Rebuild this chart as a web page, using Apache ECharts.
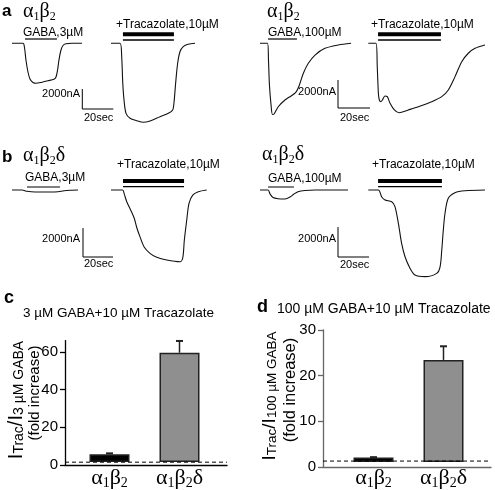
<!DOCTYPE html>
<html><head><meta charset="utf-8">
<script src="https://cdn.jsdelivr.net/npm/echarts/dist/echarts.min.js"></script>
<style>html,body{margin:0;padding:0;background:#fff}#main{width:495px;height:490px}</style>
</head><body><div id="main"></div>
<script>
// ================= DATA =================
const categories = ['α1β2', 'α1β2δ'];
// panel c: 3 µM GABA + 10 µM Tracazolate (fold increase)
const cMeans = [4.2, 59.4];
const cErrors = [0.5, 6.4];
const cRefLine = 1.5;
const cTicks = [0, 20, 40, 60];
const cAxisMax = 66;
// panel d: 100 µM GABA + 10 µM Tracazolate (fold increase)
const dMeans = [1.0, 23.2];
const dErrors = [0.1, 3.1];
const dRefLine = 1.3;
const dTicks = [0, 10, 20, 30];
const dAxisMax = 30;
// scale bars
const scaleBarSec = 20;
const scaleBarNA = 2000;
// current traces: [time (s), current (nA)]
const traceA1 = [[0,0],[7.1,0],[8.1,-470],[9.0,-1670],[10.3,-2870],[11.6,-3570],[13.5,-3920],[15.5,-4000],[19.4,-3890],[23.2,-3750],[27.1,-3590],[28.4,-3370],[29.4,-2670],[30.3,-1670],[31.6,-670],[32.9,-220],[34.8,-50],[38.7,0],[45.2,0]];
const traceA2 = [[0,0],[5.8,0],[6.9,-1340],[7.6,-4000],[8.4,-5670],[9.7,-7000],[12.3,-7500],[16.6,-7740],[20.8,-7900],[25.2,-7770],[31.6,-7340],[37.0,-7000],[39.8,-6670],[40.6,-6000],[41.7,-4000],[43.0,-2000],[44.5,-840],[46.6,-340],[49.7,-100],[54.2,0]];
const traceA3 = [[0,0],[4.7,0],[5.3,-1190],[5.9,-2980],[6.9,-4400],[7.8,-5080],[8.8,-5050],[11.4,-4530],[15.6,-4050],[19.4,-3760],[22.5,-3480],[24.4,-3050],[27.1,-2140],[30.2,-1430],[34.4,-840],[40.6,-360],[48.9,-120],[56.9,0]];
const traceA4 = [[0,0],[4.8,0],[5.6,-1670],[6.3,-3570],[6.9,-4050],[7.8,-4170],[8.8,-4050],[10.4,-3760],[11.9,-3810],[13.6,-4280],[16.3,-4760],[19.2,-4960],[25.0,-4760],[31.3,-4530],[39.6,-4170],[45.9,-3810],[50.0,-3330],[54.2,-2380],[58.4,-1310],[62.5,-710],[66.7,-360],[72.9,-120]];
const traceB1 = [[0,0],[6.7,0],[10,-90],[15.3,-140],[25.3,-140],[30.7,-120],[34.7,-50],[40,-15],[44,0]];
const traceB2 = [[0,0],[7.8,0],[8.7,-230],[10.5,-810],[13.1,-1380],[15.5,-1950],[17.1,-2570],[19.3,-3220],[22,-3910],[26,-4370],[30.5,-4640],[37.1,-4830],[46,-4950],[47.8,-4710],[48.9,-3450],[50.5,-2070],[52,-920],[54.5,-350],[58.2,-120],[63.8,0]];
const traceB3 = [[0,0],[5.2,0],[6.5,-270],[8.4,-500],[11.6,-580],[16.1,-600],[19.4,-470],[21.9,-270],[24.5,-110],[29,-30],[35.5,0],[56.8,0]];
const traceB4 = [[0,0],[6.5,0],[8.6,-450],[10.8,-670],[15.1,-780],[17.2,-1110],[19.4,-2220],[21.5,-3560],[23.7,-4450],[26.9,-5220],[30.1,-5670],[36.6,-5780],[44.1,-5560],[46.3,-5120],[47.4,-4000],[48.4,-2670],[49.5,-1550],[51.6,-550],[55.9,-180],[62.4,-50],[75.3,0]];
// drug application periods [start s, end s]
const gabaA1 = [8.4, 29.0];
const tracA2 = [7.7, 40.6];
const gabaA3 = [5.0, 23.1];
const tracA4 = [6.1, 45.4];
const gabaB1 = [10, 32];
const tracB2 = [8, 48.7];
const gabaB3 = [5.2, 21.9];
const tracB4 = [6.3, 47.5];

// ================= LAYOUT / STYLE =================
const SANS = 'Liberation Sans, Arial, sans-serif';
const SERIF = 'Liberation Serif, Times New Roman, serif';
const panels = {
  aL: {pxPerSec: 1.55, nAPerPx: 100, sx: 82.3, sy: 109},
  aR: {pxPerSec: 1.6, nAPerPx: 71.4, sx: 338, sy: 108},
  bL: {pxPerSec: 1.5, nAPerPx: 69, sx: 83, sy: 257},
  bR: {pxPerSec: 1.55, nAPerPx: 66.7, sx: 338, sy: 257}
};

const grids = [], xAxes = [], yAxes = [], series = [];
function addGrid(g, x, y) {
  grids.push(Object.assign({containLabel: false}, g));
  const i = grids.length - 1;
  xAxes.push(Object.assign({gridIndex: i}, x));
  yAxes.push(Object.assign({gridIndex: i}, y));
  return i;
}
function addTrace(data, x0, yBase, pan, apps) {
  const tEnd = data[data.length - 1][0];
  const minI = Math.min.apply(null, data.map(d => d[1]));
  const upPx = 12, depthPx = -minI / pan.nAPerPx + 4;
  const gi = addGrid({left: x0, top: yBase - upPx, width: tEnd * pan.pxPerSec, height: upPx + depthPx},
    {type: 'value', min: 0, max: tEnd, show: false},
    {type: 'value', min: -depthPx * pan.nAPerPx, max: upPx * pan.nAPerPx, show: false});
  series.push({type: 'line', xAxisIndex: gi, yAxisIndex: gi, data: data, showSymbol: false, smooth: 0.3,
    clip: false, silent: true, lineStyle: {color: '#111', width: 1.1}});
  apps.forEach(a => {
    const lvl = a.px * pan.nAPerPx;
    series.push({type: 'line', xAxisIndex: gi, yAxisIndex: gi, data: [[a.t[0], lvl], [a.t[1], lvl]],
      showSymbol: false, clip: false, silent: true, lineStyle: {color: '#000', width: a.w, cap: 'butt'}});
  });
}
function addScale(pan) {
  const w = scaleBarSec * pan.pxPerSec, h = scaleBarNA / pan.nAPerPx;
  const gi = addGrid({left: pan.sx, top: pan.sy - h, width: w, height: h},
    {type: 'value', min: 0, max: scaleBarSec, show: false},
    {type: 'value', min: 0, max: scaleBarNA, show: false});
  series.push({type: 'line', xAxisIndex: gi, yAxisIndex: gi, data: [[0, scaleBarNA], [0, 0], [scaleBarSec, 0]],
    showSymbol: false, clip: false, silent: true, lineStyle: {color: '#000', width: 1}});
}
const gabaOnly = (t, px) => [{t: t, px: px, w: 1.2}];
const tracApp = (t) => [{t: t, px: 9, w: 4}, {t: t, px: 3.3, w: 1.3}];

addTrace(traceA1, 12, 43.3, panels.aL, gabaOnly(gabaA1, 4.3));
addTrace(traceA2, 111, 43.3, panels.aL, tracApp(tracA2));
addTrace(traceA3, 260, 43.3, panels.aR, gabaOnly(gabaA3, 4.3));
addTrace(traceA4, 368.3, 43.3, panels.aR, tracApp(tracA4));
addTrace(traceB1, 12, 190, panels.bL, gabaOnly(gabaB1, 3));
addTrace(traceB2, 111, 190, panels.bL, tracApp(tracB2));
addTrace(traceB3, 260, 190, panels.bR, gabaOnly(gabaB3, 3));
addTrace(traceB4, 368.3, 190, panels.bR, tracApp(tracB4));
Object.keys(panels).forEach(k => addScale(panels[k]));

// Greek rich text helper: digits become subscripts
function greek(s) {
  return s.split('').map(ch => /[0-9]/.test(ch) ? '{s|' + ch + '}' : '{g|' + ch + '}').join('');
}
function greekRich(size, sub, lh) {
  return {g: {fontFamily: SERIF, fontSize: size, lineHeight: lh, color: '#000'},
          s: {fontFamily: SERIF, fontSize: sub, verticalAlign: 'bottom', color: '#000'}};
}

function addBarChart(o) {
  const gw = addGrid({left: o.left, top: o.top, width: o.width, height: o.height},
    {type: 'value', min: 0, max: 1, axisLine: {show: true, onZero: false, lineStyle: {color: o.axisColor, width: 1.3}},
      axisTick: {show: false}, axisLabel: {show: false}, splitLine: {show: false}},
    {type: 'value', min: 0, max: o.max, interval: o.ticks[1] - o.ticks[0],
      axisLine: {show: true, lineStyle: {color: o.axisColor, width: 1.3}},
      axisTick: {show: true, length: 5, customValues: o.ticks, lineStyle: {color: o.axisColor, width: 1.3}},
      axisLabel: {customValues: o.ticks, showMinLabel: true, showMaxLabel: true, hideOverlap: false,
        fontSize: 15, fontFamily: SANS, color: '#000', margin: 7},
      splitLine: {show: false}});
  series.push({type: 'line', xAxisIndex: gw, yAxisIndex: gw, data: [[0, o.ref], [1, o.ref]], showSymbol: false,
    silent: true, z: 5, lineStyle: {color: '#000', width: 1, type: [4, 3]}});
  const gn = addGrid({left: o.barLeft, top: o.top, width: 140, height: o.height},
    {type: 'category', data: categories, axisLine: {show: false}, axisTick: {show: false},
      axisLabel: {interval: 0, hideOverlap: false, margin: 4, formatter: v => greek(v), rich: greekRich(22, 14, 24)}},
    {type: 'value', min: 0, max: o.max, show: false});
  series.push({type: 'bar', xAxisIndex: gn, yAxisIndex: gn, barWidth: 40, z: 3,
    data: o.means.map((v, i) => ({value: v, itemStyle: {color: i === 0 ? '#000' : '#8f8f8f', borderColor: '#222', borderWidth: 1.5}}))});
  series.push({type: 'custom', xAxisIndex: gn, yAxisIndex: gn, z: 4,
    data: o.means.map((v, i) => [i, v, o.errors[i]]),
    renderItem: (params, api) => {
      const p0 = api.coord([api.value(0), api.value(1)]);
      const p1 = api.coord([api.value(0), api.value(1) + api.value(2)]);
      return {type: 'group', children: [
        {type: 'line', shape: {x1: p0[0], y1: p0[1], x2: p1[0], y2: p1[1]}, style: {stroke: '#222', lineWidth: 1.5}},
        {type: 'line', shape: {x1: p1[0] - 3.5, y1: p1[1], x2: p1[0] + 3.5, y2: p1[1]}, style: {stroke: '#222', lineWidth: 2}}
      ]};
    }});
}
addBarChart({left: 65, top: 465 - cAxisMax * 1.885, width: 162, height: cAxisMax * 1.885, barLeft: 74.5,
  max: cAxisMax, ticks: cTicks, means: cMeans, errors: cErrors, ref: cRefLine, axisColor: '#000'});
addBarChart({left: 323, top: 330, width: 168, height: 137, barLeft: 338.5,
  max: dAxisMax, ticks: dTicks, means: dMeans, errors: dErrors, ref: dRefLine, axisColor: '#666'});

// ================= TEXT =================
const graphics = [];
function txt(x, y, text, o) {
  o = o || {};
  graphics.push({type: 'text', x: x, y: y, rotation: o.rot || 0, silent: true,
    style: {text: text, fill: '#000', font: o.font || ('12px ' + SANS), align: o.align || 'left',
      verticalAlign: 'middle', rich: o.rich}});
}
const bold = (s) => 'bold ' + s + 'px ' + SANS;
txt(2, 11, 'a', {font: bold(17)});
txt(23, 12, greek('α1β2'), {rich: greekRich(20, 12, 22)});
txt(23, 33, 'GABA,3µM');
txt(116, 25, '+Tracazolate,10µM');
txt(80, 94, '2000nA', {align: 'right', font: '11px ' + SANS});
txt(84, 118, '20sec', {font: '11px ' + SANS});
txt(267, 12, greek('α1β2'), {rich: greekRich(20, 12, 22)});
txt(268, 33, 'GABA,100µM');
txt(371, 25, '+Tracazolate,10µM');
txt(336, 92, '2000nA', {align: 'right', font: '11px ' + SANS});
txt(340, 118, '20sec', {font: '11px ' + SANS});
txt(2, 157, 'b', {font: bold(17)});
txt(23, 156, greek('α1β2δ'), {rich: greekRich(20, 12, 22)});
txt(25, 178, 'GABA,3µM');
txt(117, 165, '+Tracazolate,10µM');
txt(80, 239, '2000nA', {align: 'right', font: '11px ' + SANS});
txt(84, 264, '20sec', {font: '11px ' + SANS});
txt(262, 155, greek('α1β2δ'), {rich: greekRich(20, 12, 22)});
txt(268, 179, 'GABA,100µM');
txt(372, 165, '+Tracazolate,10µM');
txt(336, 239, '2000nA', {align: 'right', font: '11px ' + SANS});
txt(340, 265, '20sec', {font: '11px ' + SANS});
txt(4, 298, 'c', {font: bold(18)});
txt(23, 313, '3 µM GABA+10 µM Tracazolate', {font: '13.5px ' + SANS});
txt(257, 307, 'd', {font: bold(18)});
txt(277, 309, '100 µM GABA+10 µM Tracazolate', {font: '14px ' + SANS});
const yNameRich = (big, sub) => ({I: {fontFamily: SANS, fontSize: big, color: '#000'},
  b: {fontFamily: SANS, fontSize: sub, verticalAlign: 'bottom', color: '#000'}});
txt(16, 400, '{I|I}{b|Trac}{I|/I}{b|3 µM GABA}', {rot: Math.PI / 2, align: 'center', rich: yNameRich(20, 14)});
txt(35, 393, '(fold increase)', {rot: Math.PI / 2, align: 'center', font: '15px ' + SANS});
txt(270, 396, '{I|I}{b|Trac}{I|/I}{b|100 µM GABA}', {rot: Math.PI / 2, align: 'center', rich: yNameRich(19, 13.5)});
txt(290, 390, '(fold increase)', {rot: Math.PI / 2, align: 'center', font: '16.5px ' + SANS});

const chart = echarts.init(document.getElementById('main'), null, {renderer: 'canvas'});
chart.setOption({
  animation: false,
  backgroundColor: '#fff',
  grid: grids, xAxis: xAxes, yAxis: yAxes, series: series,
  graphic: {elements: graphics}
});
</script></body></html>
